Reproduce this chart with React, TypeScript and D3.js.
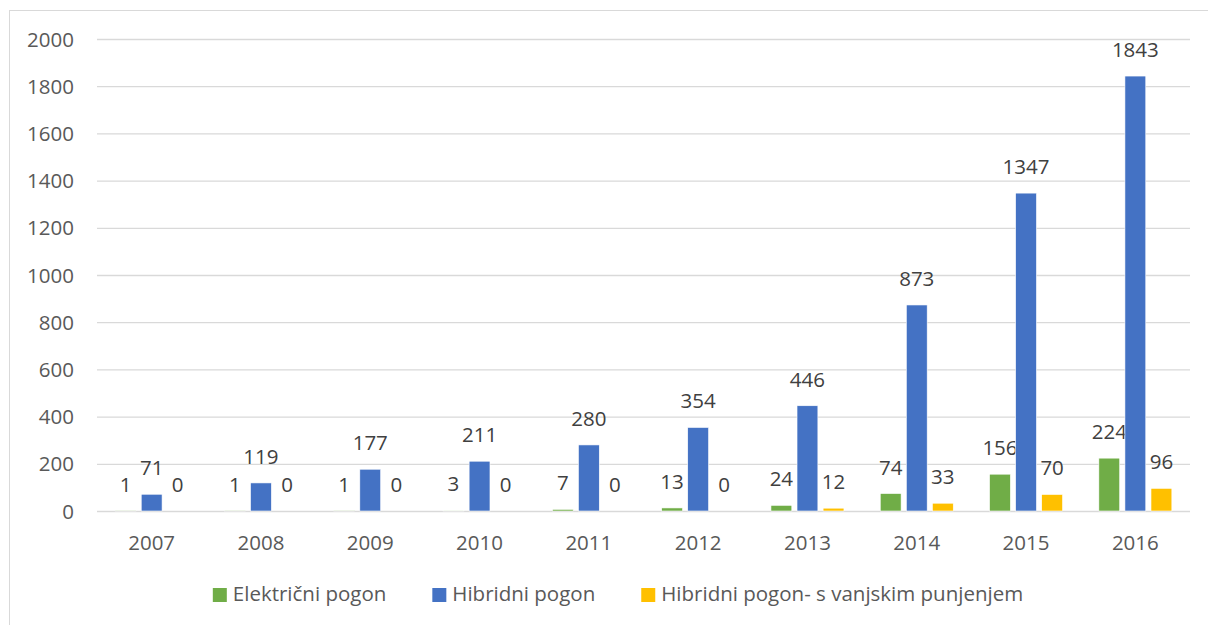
import React, { useEffect, useRef } from 'react';
import * as d3 from 'd3';

const years = ['2007', '2008', '2009', '2010', '2011', '2012', '2013', '2014', '2015', '2016'];
const elektricni = [1, 1, 1, 3, 7, 13, 24, 74, 156, 224];
const hibridni = [71, 119, 177, 211, 280, 354, 446, 873, 1347, 1843];
const hibridniVanjski = [0, 0, 0, 0, 0, 0, 12, 33, 70, 96];
const seriesNames = ['Električni pogon', 'Hibridni pogon', 'Hibridni pogon- s vanjskim punjenjem'];
const seriesColors = ['#70AD47', '#4472C4', '#FFC000'];
const yTicks = [0, 200, 400, 600, 800, 1000, 1200, 1400, 1600, 1800, 2000];

const FONT = '"Open Sans", sans-serif';

function App() {
    const svgRef = useRef<SVGSVGElement>(null);

    useEffect(() => {
        const svg = d3.select(svgRef.current);
        svg.selectAll('*').remove();

        const left = 97, right = 1190, top = 39, bottom = 511;

        // chart frame (only left/top visible in the shot)
        svg.append('rect')
            .attr('x', 9.5).attr('y', 10.5)
            .attr('width', 1230).attr('height', 640)
            .attr('fill', 'white')
            .attr('stroke', '#D9D9D9');

        const x = d3.scaleBand().domain(years).range([left, right]);
        const y = d3.scaleLinear().domain([0, 2000]).range([bottom, top]);
        const inner = d3.scaleBand().domain(['0', '1', '2']).range([-36.5, 36.5]).paddingInner(0.2);

        // grid + y labels
        svg.append('g').selectAll('line')
            .data(yTicks).enter().append('line')
            .attr('x1', left).attr('x2', right)
            .attr('y1', d => y(d) + 0.5).attr('y2', d => y(d) + 0.5)
            .attr('stroke', '#D9D9D9').attr('stroke-width', 1.3);

        svg.append('g').selectAll('text')
            .data(yTicks).enter().append('text')
            .attr('x', 74).attr('y', d => y(d) + 7.5)
            .attr('text-anchor', 'end')
            .attr('font-family', FONT).attr('font-size', 20.5)
            .attr('fill', '#595959')
            .text(d => d);

        // x labels
        svg.append('g').selectAll('text')
            .data(years).enter().append('text')
            .attr('x', d => (x(d) as number) + x.bandwidth() / 2)
            .attr('y', 550)
            .attr('text-anchor', 'middle')
            .attr('font-family', FONT).attr('font-size', 20.5)
            .attr('fill', '#595959')
            .text(d => d);

        const series = [elektricni, hibridni, hibridniVanjski];
        series.forEach((vals, si) => {
            const g = svg.append('g');
            const cx = (i: number) => (x(years[i]) as number) + x.bandwidth() / 2 + (inner(String(si)) as number);
            g.selectAll('rect')
                .data(vals).enter().append('rect')
                .attr('x', (d, i) => cx(i))
                .attr('y', d => y(d))
                .attr('width', inner.bandwidth())
                .attr('height', d => bottom - y(d))
                .attr('fill', seriesColors[si])
                .attr('stroke', d => (d > 0 ? 'white' : 'none'))
                .attr('stroke-width', 0.6);
            g.selectAll('text')
                .data(vals).enter().append('text')
                .attr('x', (d, i) => cx(i) + inner.bandwidth() / 2)
                .attr('y', d => y(d) - 19)
                .attr('text-anchor', 'middle')
                .attr('font-family', FONT).attr('font-size', 20.5)
                .attr('fill', '#404040')
                .text(d => d);
        });

        // legend, measured and centred
        const legend = svg.append('g');
        const items = seriesNames.map((name, i) => {
            const it = legend.append('g');
            it.append('rect')
                .attr('y', 588).attr('width', 14).attr('height', 14)
                .attr('fill', seriesColors[i]);
            const t = it.append('text')
                .attr('x', 20).attr('y', 601)
                .attr('font-family', FONT).attr('font-size', 20.5)
                .attr('fill', '#595959')
                .text(name);
            const w = (t.node() as SVGTextElement).getComputedTextLength();
            return { it, w: 20 + w };
        });
        const gap = 46;
        const total = d3.sum(items, d => d.w) + gap * (items.length - 1);
        let pos = 618 - total / 2;
        items.forEach(d => {
            d.it.attr('transform', `translate(${pos},0)`);
            pos += d.w + gap;
        });
    }, []);

    return (
        <svg ref={svgRef} width={1208} height={625}
            style={{ position: 'absolute', left: 0, top: 0, background: 'white' }} />
    );
}

export default App;
